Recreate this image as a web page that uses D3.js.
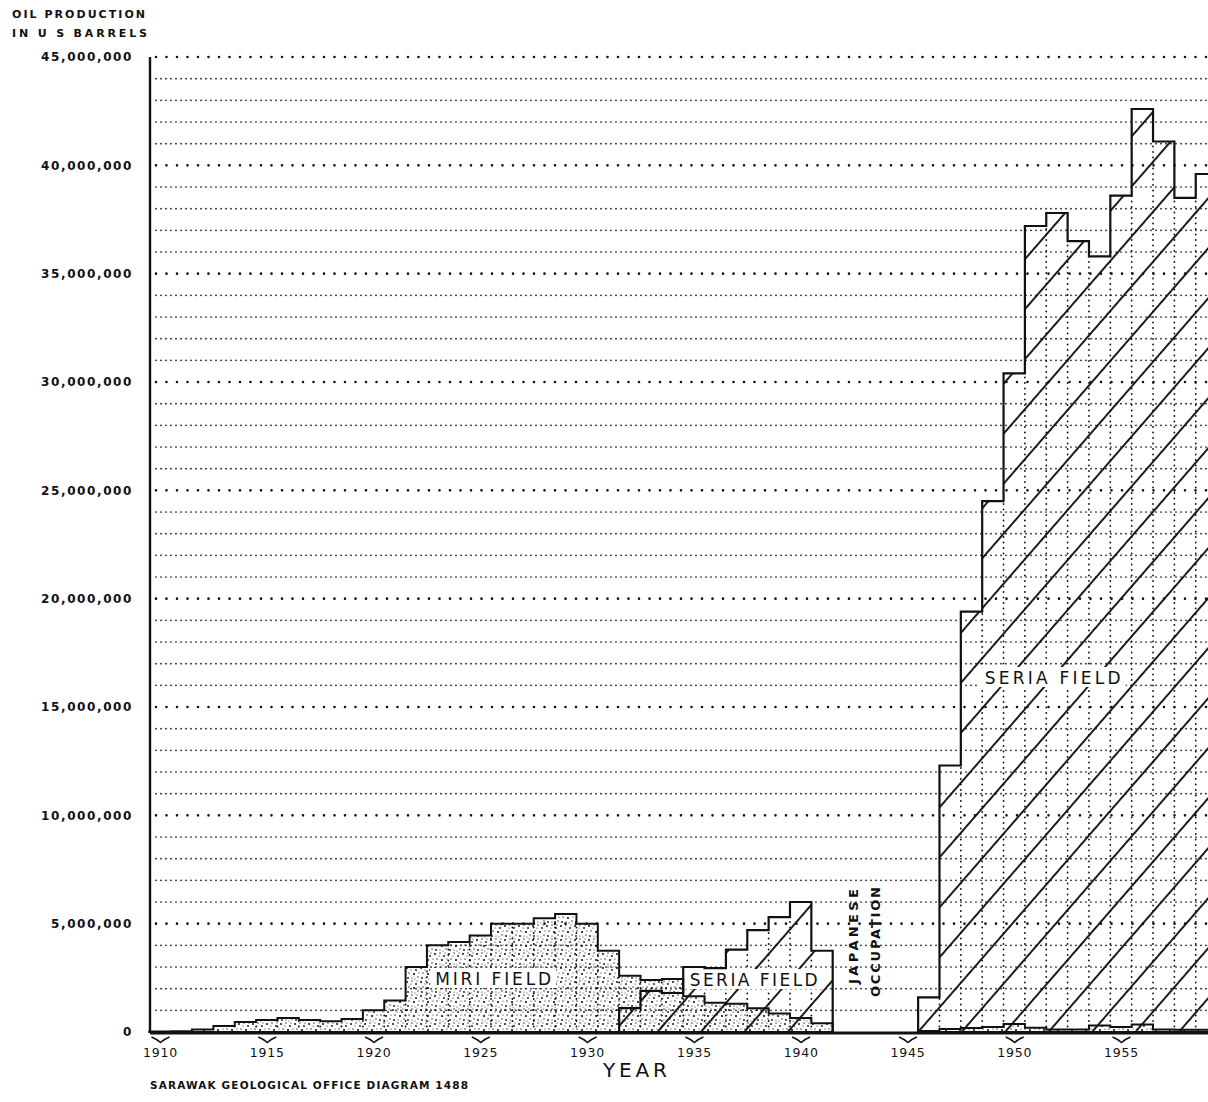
<!DOCTYPE html>
<html>
<head>
<meta charset="utf-8">
<script src="https://cdn.jsdelivr.net/npm/d3@7"></script>
<style>
  body { margin: 0; background: #fff; }
  svg text { font-family: "DejaVu Sans", sans-serif; fill: #111; }
</style>
</head>
<body>
<div id="chart"></div>
<script>
// Annual oil production, millions of US barrels (null = Japanese occupation)
var years = [1910, 1911, 1912, 1913, 1914, 1915, 1916, 1917, 1918, 1919,
             1920, 1921, 1922, 1923, 1924, 1925, 1926, 1927, 1928, 1929,
             1930, 1931, 1932, 1933, 1934, 1935, 1936, 1937, 1938, 1939,
             1940, 1941, 1942, 1943, 1944, 1945, 1946, 1947, 1948, 1949,
             1950, 1951, 1952, 1953, 1954, 1955, 1956, 1957, 1958, 1959];

var miriField = [0.02, 0.03, 0.12, 0.28, 0.46, 0.55, 0.65, 0.55, 0.5, 0.6,
                 1.0, 1.45, 3.0, 4.0, 4.15, 4.45, 5.0, 5.0, 5.25, 5.45,
                 5.0, 3.75, 2.6, 2.4, 2.45, 1.65, 1.35, 1.3, 1.1, 0.85,
                 0.65, 0.4, null, null, null, null, 0.05, 0.14, 0.18, 0.23,
                 0.37, 0.2, 0.12, 0.12, 0.3, 0.23, 0.35, 0.12, 0.1, 0.1];

var seriaField = [null, null, null, null, null, null, null, null, null, null,
                  null, null, null, null, null, null, null, null, null, null,
                  null, null, 1.1, 1.9, 1.8, 3.0, 2.95, 3.8, 4.7, 5.3,
                  6.0, 3.75, null, null, null, null, 1.6, 12.3, 19.4, 24.5,
                  30.4, 37.2, 37.8, 36.5, 35.8, 38.6, 42.6, 41.1, 38.5, 39.6];

var yTicks = [0, 5, 10, 15, 20, 25, 30, 35, 40, 45];
var gridLevels = d3.range(1, 46);
var xTicks = [1910, 1915, 1920, 1925, 1930, 1935, 1940, 1945, 1950, 1955];

var svgWidth = 1208;
var svgHeight = 1102;
var plot = { left: 150, right: 1208, top: 57, bottom: 1032 };

var svg = d3.select("#chart")
    .append("svg")
    .attr("width", svgWidth)
    .attr("height", svgHeight);

svg.append("rect").attr("width", svgWidth).attr("height", svgHeight).attr("fill", "#fff");

var x = d3.scaleLinear().domain([1910, 1955]).range([160, 1121]);
var y = d3.scaleLinear().domain([0, 45]).range([plot.bottom, plot.top]);

// patterns
var defs = svg.append("defs");

var hatch = defs.append("pattern")
    .attr("id", "hatch")
    .attr("patternUnits", "userSpaceOnUse")
    .attr("width", 32.8)
    .attr("height", 40)
    .attr("patternTransform", "translate(" + x(1945.5) + "," + y(0) + ") rotate(41)");
hatch.append("rect")
    .attr("x", -0.95).attr("y", 0).attr("width", 1.9).attr("height", 40)
    .attr("fill", "#111");
hatch.append("rect")
    .attr("x", 32.8 - 0.95).attr("y", 0).attr("width", 1.9).attr("height", 40)
    .attr("fill", "#111");

var stipple = defs.append("pattern")
    .attr("id", "stipple")
    .attr("patternUnits", "userSpaceOnUse")
    .attr("width", 14)
    .attr("height", 14);
[[1, 2, 1.0], [6, 1, 0.7], [10, 4, 0.9], [3, 7, 0.7], [8, 8, 1.1],
 [12, 11, 0.7], [2, 12, 0.9], [6, 12, 0.6], [11, 1, 0.6], [5, 4, 0.6],
 [13, 7, 0.6], [9, 13, 0.5]]
    .forEach(function(p) {
        stipple.append("circle").attr("cx", p[0]).attr("cy", p[1]).attr("r", p[2]).attr("fill", "#111");
    });

// horizontal dotted grid
svg.append("g").selectAll("line")
    .data(gridLevels)
    .enter().append("line")
    .attr("x1", plot.left + 6)
    .attr("x2", plot.right)
    .attr("y1", function(d) { return y(d); })
    .attr("y2", function(d) { return y(d); })
    .attr("stroke", "#111")
    .attr("stroke-linecap", "round")
    .attr("stroke-width", function(d) { return d % 5 === 0 ? 2.6 : 1.7; })
    .attr("stroke-dasharray", function(d) { return d % 5 === 0 ? "0 10.5" : "0 5"; });

// split a series into continuous runs of years
function runs(values) {
    var out = [], cur = null;
    years.forEach(function(yr, i) {
        var v = values[i];
        if (v === null) { cur = null; return; }
        if (!cur) { cur = []; out.push(cur); }
        cur.push({ year: yr, v: v });
    });
    return out.map(function(r) {
        var pts = r.map(function(d) { return { t: d.year - 0.5, v: d.v }; });
        pts.push({ t: r[r.length - 1].year + 0.5, v: r[r.length - 1].v });
        return pts;
    });
}

var area = d3.area()
    .x(function(d) { return x(d.t); })
    .y0(y(0))
    .y1(function(d) { return y(d.v); })
    .curve(d3.curveStepAfter);

var seriaRuns = runs(seriaField);
var miriRuns = runs(miriField);

svg.append("g").selectAll("path")
    .data(seriaRuns)
    .enter().append("path")
    .attr("d", area)
    .attr("fill", "url(#hatch)");

svg.append("g").selectAll("path")
    .data(miriRuns)
    .enter().append("path")
    .attr("d", area)
    .attr("fill", "url(#stipple)");

// dotted year dividers inside the filled area
var tops = years.map(function(yr, i) {
    var a = miriField[i], b = seriaField[i];
    if (a === null && b === null) return null;
    return Math.max(a || 0, b || 0);
});
var dividers = [];
for (var i = 0; i < years.length - 1; i++) {
    if (tops[i] !== null && tops[i + 1] !== null) {
        dividers.push({ t: years[i] + 0.5, v: Math.min(tops[i], tops[i + 1]) });
    }
}
svg.append("g").selectAll("line")
    .data(dividers)
    .enter().append("line")
    .attr("x1", function(d) { return x(d.t); })
    .attr("x2", function(d) { return x(d.t); })
    .attr("y1", y(0))
    .attr("y2", function(d) { return y(d.v); })
    .attr("stroke", "#111")
    .attr("stroke-width", 1.8)
    .attr("stroke-linecap", "round")
    .attr("stroke-dasharray", "0 5.5");

// field labels with white ground
function fieldLabel(cx, cy, txt, w) {
    svg.append("rect")
        .attr("x", cx - w / 2 - 5).attr("y", cy - 11)
        .attr("width", w + 10).attr("height", 20)
        .attr("fill", "#fff");
    svg.append("text")
        .attr("x", cx - w / 2).attr("y", cy + 6)
        .attr("textLength", w)
        .attr("lengthAdjust", "spacing")
        .style("font-size", "17px")
        .text(txt);
}
fieldLabel(x(1925.6), 979, "MIRI FIELD", 116);
fieldLabel(x(1937.8), 980, "SERIA FIELD", 128);
fieldLabel(x(1951.8), 678, "SERIA FIELD", 136);

// outlines
svg.append("g").selectAll("path")
    .data(seriaRuns)
    .enter().append("path")
    .attr("d", area)
    .attr("fill", "none")
    .attr("stroke", "#111")
    .attr("stroke-width", 2.2);

svg.append("g").selectAll("path")
    .data(miriRuns)
    .enter().append("path")
    .attr("d", area)
    .attr("fill", "none")
    .attr("stroke", "#111")
    .attr("stroke-width", 2);

// axes
svg.append("line")
    .attr("x1", plot.left).attr("x2", plot.left)
    .attr("y1", plot.top).attr("y2", plot.bottom + 1)
    .attr("stroke", "#111").attr("stroke-width", 2.4);
svg.append("line")
    .attr("x1", plot.left).attr("x2", plot.right)
    .attr("y1", plot.bottom + 1).attr("y2", plot.bottom + 1)
    .attr("stroke", "#111").attr("stroke-width", 3);

var leftAxis = d3.axisLeft(y)
    .tickValues(yTicks)
    .tickSize(0)
    .tickPadding(17)
    .tickFormat(function(d) { return d3.format(",")(d * 1e6); });

var yAxisG = svg.append("g")
    .attr("transform", "translate(" + plot.left + ",0)")
    .call(leftAxis);
yAxisG.select(".domain").remove();
yAxisG.selectAll("text")
    .style("font-family", "'DejaVu Sans', sans-serif")
    .style("font-size", "12px")
    .style("font-weight", "bold")
    .style("letter-spacing", "1.6px")
    .attr("fill", "#111");

var bottomAxis = d3.axisBottom(x)
    .tickValues(xTicks)
    .tickSize(0)
    .tickPadding(15)
    .tickFormat(d3.format("d"));

var xAxisG = svg.append("g")
    .attr("transform", "translate(0," + (plot.bottom + 1) + ")")
    .call(bottomAxis);
xAxisG.select(".domain").remove();
xAxisG.selectAll("text")
    .style("font-family", "'DejaVu Sans', sans-serif")
    .style("font-size", "12.5px")
    .style("letter-spacing", "0.8px")
    .attr("fill", "#111");
xAxisG.selectAll(".tick").append("path")
    .attr("d", "M-9,4 Q-4,6 0,9.5 Q4,6 9,4")
    .attr("fill", "none")
    .attr("stroke", "#111")
    .attr("stroke-width", 1.6);

// titles
function label(tx, ty, txt, size, weight, len, anchor) {
    return svg.append("text")
        .attr("x", tx).attr("y", ty)
        .attr("textLength", len)
        .attr("lengthAdjust", "spacing")
        .attr("text-anchor", anchor || "start")
        .style("font-size", size + "px")
        .style("font-weight", weight)
        .text(txt);
}
label(12, 18, "OIL PRODUCTION", 11, "bold", 133);
label(12, 37, "IN U S BARRELS", 11, "bold", 135);
label(603, 1077, "YEAR", 20, "normal", 64);
label(150, 1089, "SARAWAK GEOLOGICAL OFFICE DIAGRAM 1488", 10.5, "bold", 318);

svg.append("text")
    .attr("transform", "translate(858," + 937 + ") rotate(-90)")
    .attr("x", -47).attr("y", 0)
    .attr("textLength", 95)
    .attr("lengthAdjust", "spacing")
    .style("font-size", "13px")
    .style("font-weight", "bold")
    .text("JAPANESE");
svg.append("text")
    .attr("transform", "translate(880," + 942 + ") rotate(-90)")
    .attr("x", -55).attr("y", 0)
    .attr("textLength", 110)
    .attr("lengthAdjust", "spacing")
    .style("font-size", "13px")
    .style("font-weight", "bold")
    .text("OCCUPATION");
</script>
</body>
</html>
